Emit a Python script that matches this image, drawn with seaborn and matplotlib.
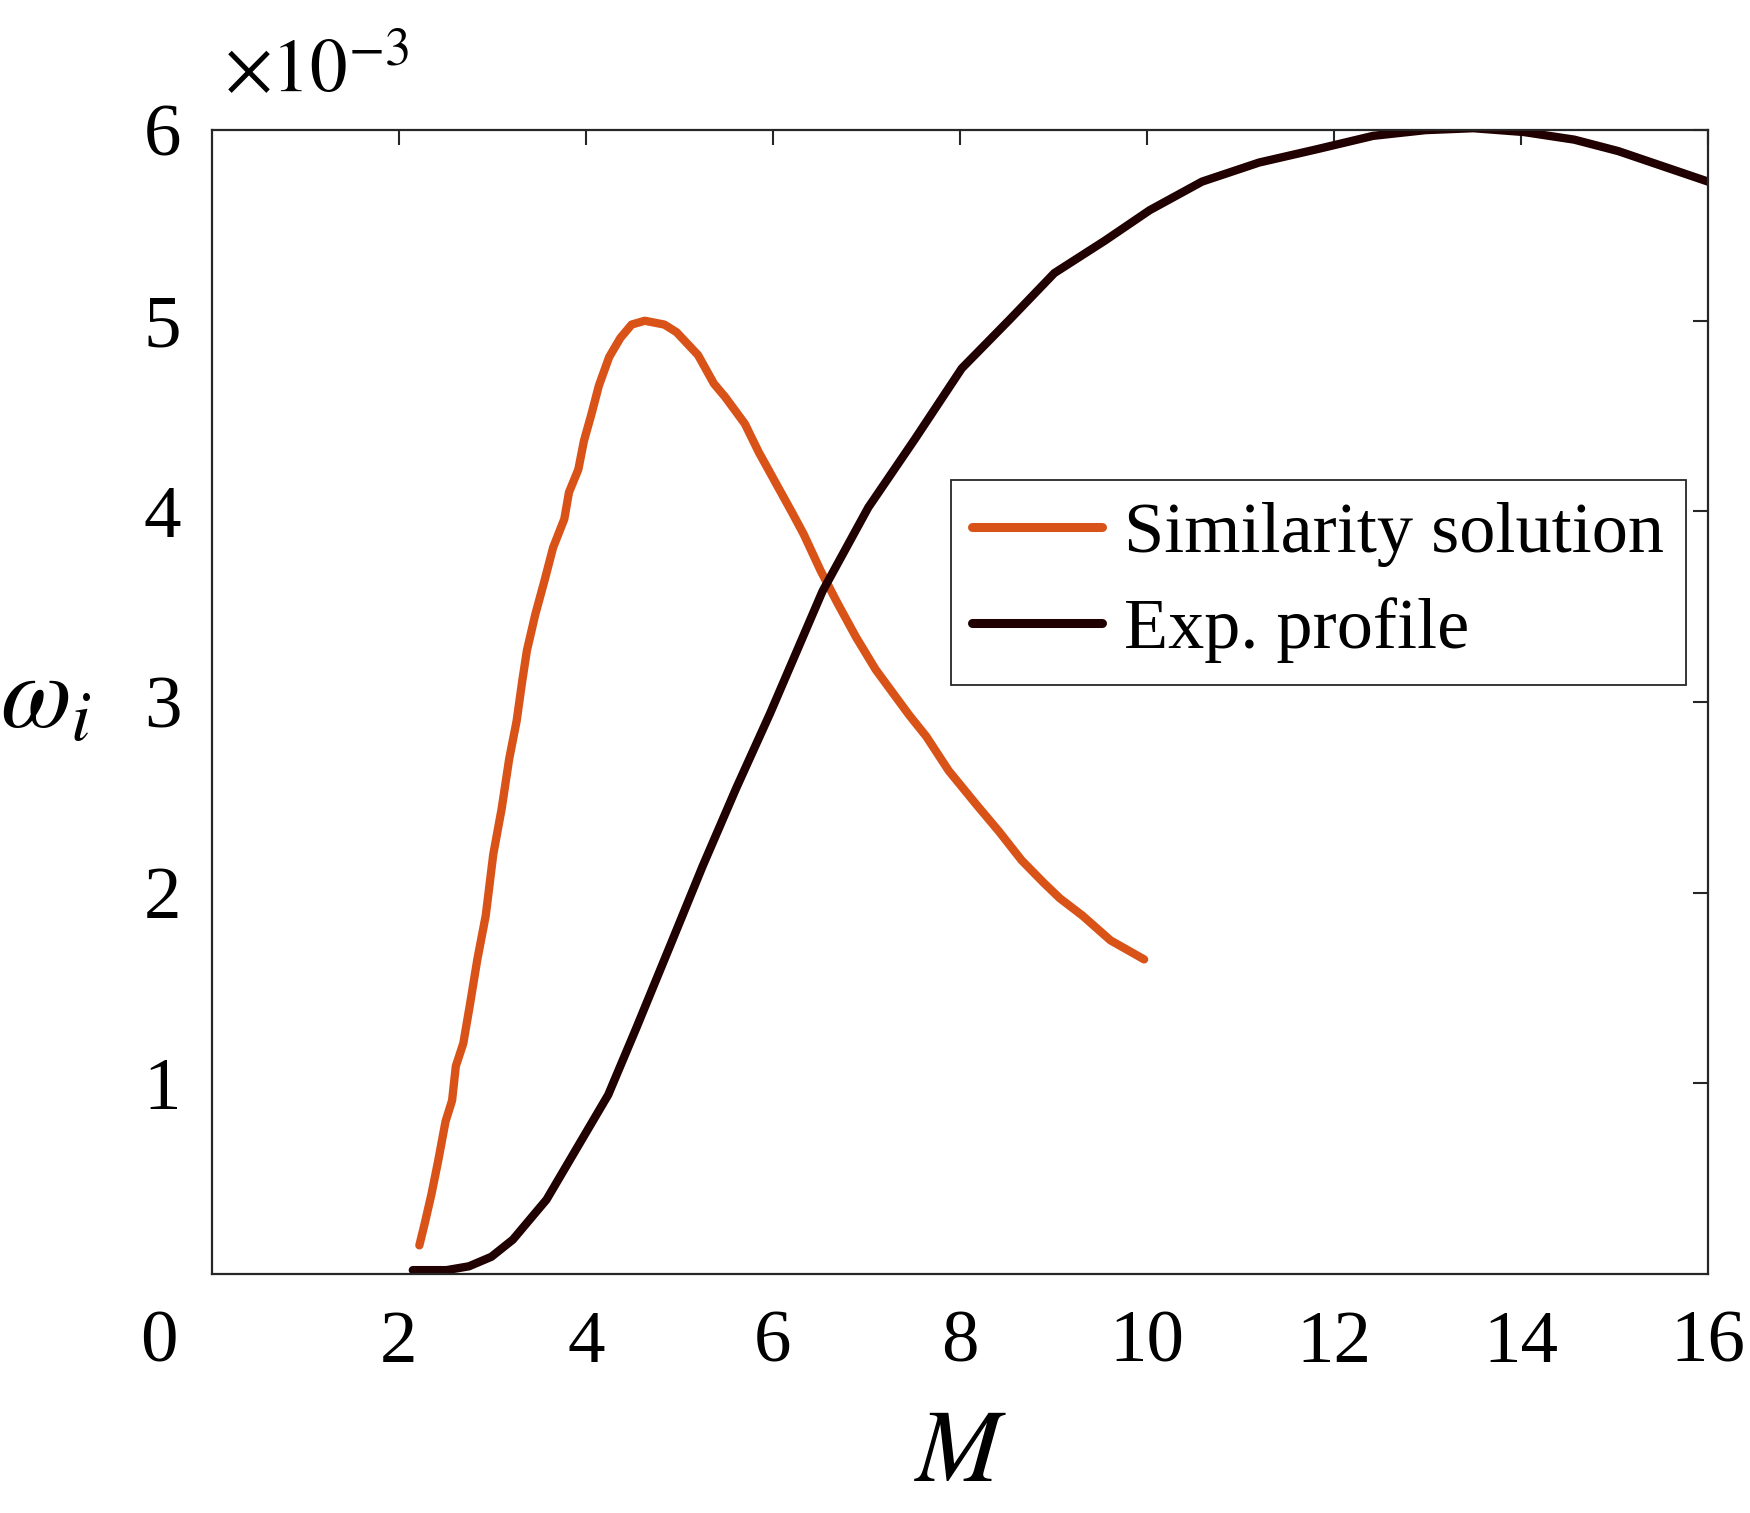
import numpy as np
import pandas as pd
import matplotlib
matplotlib.use("Agg")
import matplotlib.pyplot as plt
import seaborn as sns

# ---- data (omega_i in units of 1e-3) ----
sim_M = [2.22, 2.28, 2.35, 2.42, 2.50, 2.57, 2.61, 2.69, 2.76, 2.84, 2.93, 3.01,
         3.10, 3.18, 3.26, 3.32, 3.37, 3.46, 3.56, 3.65, 3.77, 3.82, 3.92, 3.98,
         4.06, 4.14, 4.25, 4.37, 4.49, 4.63, 4.84, 4.97, 5.20, 5.37, 5.49, 5.70,
         5.85, 6.03, 6.21, 6.33, 6.51, 6.69, 6.89, 7.10, 7.28, 7.46, 7.64, 7.88,
         8.18, 8.42, 8.66, 8.90, 9.07, 9.31, 9.61, 9.79, 9.97]
sim_w = [0.15, 0.27, 0.42, 0.59, 0.80, 0.91, 1.09, 1.21, 1.41, 1.65, 1.88, 2.20,
         2.44, 2.70, 2.90, 3.11, 3.27, 3.46, 3.64, 3.81, 3.96, 4.10, 4.22, 4.37,
         4.51, 4.66, 4.81, 4.91, 4.98, 5.00, 4.98, 4.94, 4.82, 4.67, 4.60, 4.46,
         4.31, 4.15, 3.99, 3.88, 3.69, 3.52, 3.34, 3.17, 3.05, 2.93, 2.82, 2.64,
         2.46, 2.32, 2.17, 2.05, 1.97, 1.88, 1.75, 1.70, 1.65]

exp_M = [2.15, 2.51, 2.75, 2.99, 3.22, 3.58, 4.00, 4.24, 4.54, 4.90, 5.25, 5.61,
         5.97, 6.53, 7.02, 7.52, 8.02, 8.54, 9.01, 9.55, 10.03, 10.59, 11.20,
         11.82, 12.42, 12.98, 13.49, 14.03, 14.57, 15.04, 15.58, 16.00]
exp_w = [0.02, 0.02, 0.04, 0.09, 0.18, 0.39, 0.74, 0.94, 1.29, 1.72, 2.14, 2.55,
         2.94, 3.58, 4.02, 4.38, 4.75, 5.01, 5.25, 5.42, 5.58, 5.73, 5.83,
         5.90, 5.97, 6.00, 6.01, 5.99, 5.95, 5.89, 5.80, 5.73]

labels = ["Similarity solution", "Exp. profile"]
colors = ["#D95319", "#200000"]
x_ticks = [2, 4, 6, 8, 10, 12, 14, 16]
y_ticks = [1, 2, 3, 4, 5, 6]

sns.set_theme(style="white")
plt.rcParams["font.family"] = ["Liberation Serif", "DejaVu Serif"]
plt.rcParams["mathtext.fontset"] = "stix"
plt.rcParams["text.color"] = "black"
plt.rcParams["xtick.labelcolor"] = "black"
plt.rcParams["ytick.labelcolor"] = "black"

fig = plt.figure(figsize=(17.5, 15.13), dpi=100)
ax = fig.add_axes([0.121, 0.158, 0.855, 0.756])

df_sim = pd.DataFrame({"M": sim_M, "w": sim_w})
df_exp = pd.DataFrame({"M": exp_M, "w": exp_w})
sns.lineplot(data=df_sim, x="M", y="w", ax=ax, color=colors[0], lw=6,
             label=labels[0], sort=False, estimator=None)
sns.lineplot(data=df_exp, x="M", y="w", ax=ax, color=colors[1], lw=6,
             label=labels[1], sort=False, estimator=None)

ax.set_xlim(0, 16)
ax.set_ylim(0, 6)
ax.set_xticks(x_ticks)
ax.set_yticks(y_ticks)
ax.set_xticklabels([str(t) for t in x_ticks])
ax.set_yticklabels([str(t) for t in y_ticks])
ax.tick_params(axis="both", which="both", direction="in", length=11, width=1.5,
               color="#262626", labelsize=54, top=True, right=True,
               labelcolor="black")
ax.tick_params(axis="x", pad=26)
ax.tick_params(axis="y", pad=22)
for s in ax.spines.values():
    s.set_color("#262626")
    s.set_linewidth(1.6)

ax.set_xlabel("")
ax.set_ylabel("")
fig.text(0.549, 0.038, "$M$", fontsize=74, ha="center", va="center", color="black")
fig.text(0.026, 0.535, r"$\omega_i$", fontsize=74, ha="center", va="center", color="black")
fig.text(0.128, 0.952, r"$\times10^{-3}$", fontsize=54, ha="left", va="center", color="black")
fig.text(0.091, 0.112, "0", fontsize=54, ha="center", va="center", color="black")

leg = ax.legend(loc="upper right", bbox_to_anchor=(0.985, 0.694), fontsize=52,
                frameon=True, fancybox=False, handlelength=1.8,
                handletextpad=0.3, borderpad=0.3, labelspacing=0.42,
                borderaxespad=0)
leg.get_frame().set_edgecolor("#262626")
leg.get_frame().set_linewidth(1.3)
leg.get_frame().set_alpha(1)
for t in leg.get_texts():
    t.set_color("black")
for h in leg.get_lines():
    h.set_linewidth(6.5)

fig.savefig("out.png", dpi=100)
